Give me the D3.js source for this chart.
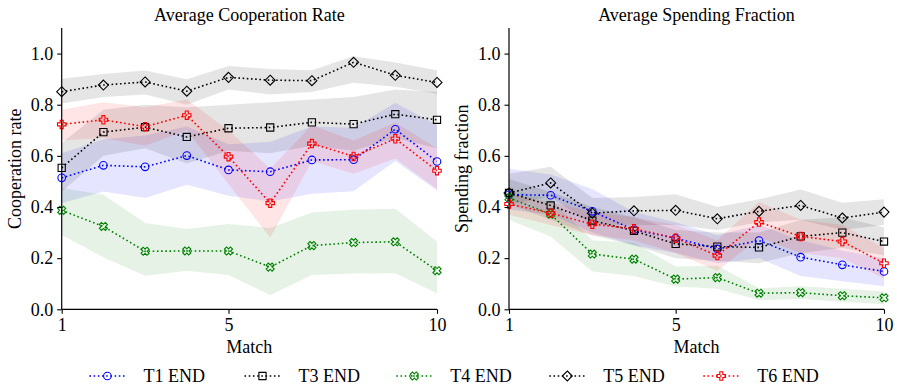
<!DOCTYPE html>
<html><head><meta charset="utf-8">
<script src="https://cdn.jsdelivr.net/npm/d3@7"></script>
<style>body{margin:0;background:#fff}svg text{font-family:"Liberation Serif","DejaVu Serif",serif}</style>
</head><body><svg id="c" width="897" height="388"></svg>
<script>
const matches=[1,2,3,4,5,6,7,8,9,10];
const xTicks=[1,5,10];
const yTicks=[0,0.2,0.4,0.6,0.8,1.0];
const seriesNames=["T1 END","T3 END","T4 END","T5 END","T6 END"];
const seriesColors=["#0000ff","#000000","#008000","#000000","#ff0000"];
const seriesMarkers=["circle","square","x","diamond","plus"];

// Cooperation rate
const coopT1=[0.514,0.563,0.557,0.601,0.545,0.538,0.584,0.585,0.704,0.578];
const coopT1Lo=[0.415,0.461,0.435,0.487,0.444,0.422,0.452,0.462,0.58,0.465];
const coopT1Hi=[0.61,0.665,0.68,0.715,0.645,0.655,0.715,0.71,0.808,0.72];
const coopT3=[0.553,0.693,0.712,0.674,0.708,0.711,0.731,0.724,0.763,0.741];
const coopT3Lo=[0.46,0.60,0.63,0.57,0.62,0.61,0.64,0.62,0.67,0.63];
const coopT3Hi=[0.65,0.78,0.80,0.79,0.80,0.81,0.82,0.83,0.86,0.85];
const coopT4=[0.387,0.324,0.227,0.228,0.228,0.165,0.249,0.261,0.264,0.151];
const coopT4Lo=[0.291,0.204,0.131,0.151,0.134,0.056,0.134,0.14,0.141,0.063];
const coopT4Hi=[0.474,0.448,0.337,0.314,0.334,0.318,0.379,0.389,0.393,0.265];
const coopT5=[0.851,0.877,0.889,0.853,0.907,0.896,0.894,0.966,0.915,0.887];
const coopT5Lo=[0.805,0.83,0.84,0.80,0.86,0.84,0.85,0.886,0.87,0.843];
const coopT5Hi=[0.902,0.92,0.934,0.90,0.951,0.94,0.935,0.99,0.965,0.935];
const coopT6=[0.723,0.741,0.714,0.759,0.597,0.415,0.648,0.598,0.667,0.542];
const coopT6Lo=[0.66,0.67,0.64,0.70,0.49,0.28,0.58,0.53,0.59,0.47];
const coopT6Hi=[0.78,0.81,0.79,0.82,0.70,0.55,0.72,0.66,0.73,0.63];

// Spending fraction
const spendT1=[0.448,0.446,0.383,0.311,0.278,0.236,0.269,0.204,0.174,0.148];
const spendT1Lo=[0.39,0.37,0.30,0.25,0.22,0.18,0.20,0.13,0.11,0.09];
const spendT1Hi=[0.55,0.527,0.47,0.38,0.34,0.29,0.33,0.27,0.23,0.20];
const spendT3=[0.455,0.406,0.347,0.307,0.256,0.245,0.242,0.285,0.300,0.265];
const spendT3Lo=[0.41,0.35,0.29,0.25,0.20,0.19,0.18,0.22,0.24,0.21];
const spendT3Hi=[0.51,0.46,0.40,0.36,0.31,0.30,0.30,0.35,0.36,0.32];
const spendT4=[0.436,0.372,0.216,0.196,0.118,0.124,0.063,0.065,0.053,0.045];
const spendT4Lo=[0.35,0.285,0.148,0.13,0.089,0.08,0.036,0.04,0.03,0.02];
const spendT4Hi=[0.47,0.43,0.27,0.26,0.167,0.17,0.082,0.09,0.08,0.07];
const spendT5=[0.455,0.494,0.376,0.385,0.387,0.354,0.383,0.406,0.357,0.380];
const spendT5Lo=[0.41,0.44,0.33,0.33,0.33,0.31,0.34,0.35,0.31,0.33];
const spendT5Hi=[0.53,0.557,0.435,0.439,0.45,0.40,0.43,0.468,0.417,0.43];
const spendT6=[0.412,0.376,0.333,0.315,0.278,0.210,0.341,0.285,0.265,0.180];
const spendT6Lo=[0.37,0.33,0.29,0.27,0.22,0.15,0.28,0.22,0.20,0.12];
const spendT6Hi=[0.45,0.42,0.38,0.36,0.33,0.27,0.42,0.35,0.33,0.24];

const panels=[
 {title:"Average Cooperation Rate",ylabel:"Cooperation rate",x0:61.7,x1:437,
  means:[coopT1,coopT3,coopT4,coopT5,coopT6],los:[coopT1Lo,coopT3Lo,coopT4Lo,coopT5Lo,coopT6Lo],his:[coopT1Hi,coopT3Hi,coopT4Hi,coopT5Hi,coopT6Hi]},
 {title:"Average Spending Fraction",ylabel:"Spending fraction",x0:509,x1:884,
  means:[spendT1,spendT3,spendT4,spendT5,spendT6],los:[spendT1Lo,spendT3Lo,spendT4Lo,spendT5Lo,spendT6Lo],his:[spendT1Hi,spendT3Hi,spendT4Hi,spendT5Hi,spendT6Hi]}
];

function markerPath(type){
  if(type==="circle"){const r=3.8;return `M${r},0A${r},${r},0,1,1,${-r},0A${r},${r},0,1,1,${r},0Z`;}
  if(type==="square"){const s=3.6;return `M${-s},${-s}H${s}V${s}H${-s}Z`;}
  if(type==="diamond"){const s=5;return `M0,${-s}L${s},0L0,${s}L${-s},0Z`;}
  const a=4.2,b=1.5;
  let pts=[[b,-a],[b,-b],[a,-b],[a,b],[b,b],[b,a],[-b,a],[-b,b],[-a,b],[-a,-b],[-b,-b],[-b,-a]];
  if(type==="x"){const c=Math.SQRT1_2;pts=pts.map(([x,y])=>[(x-y)*c,(x+y)*c]);}
  return "M"+pts.map(p=>p[0].toFixed(2)+","+p[1].toFixed(2)).join("L")+"Z";
}

const FONT='"Liberation Serif","DejaVu Serif",serif';
const svg=d3.select("#c");
const yTop=28,yBot=309.3;
panels.forEach(p=>{
  const x=d3.scaleLinear().domain([1,10]).range([p.x0,p.x1]);
  const y=d3.scaleLinear().domain([0,1.1]).range([yBot,yTop]);
  const g=svg.append("g");
  p.means.forEach((m,i)=>{
    const area=d3.area().x((d,j)=>x(matches[j])).y0((d,j)=>y(p.los[i][j])).y1((d,j)=>y(p.his[i][j]));
    g.append("path").attr("d",area(m)).attr("fill",seriesColors[i]).attr("fill-opacity",0.1).attr("stroke","none");
  });
  p.means.forEach((m,i)=>{
    const line=d3.line().x((d,j)=>x(matches[j])).y(d=>y(d));
    g.append("path").attr("d",line(m)).attr("fill","none").attr("stroke",seriesColors[i])
     .attr("stroke-width",1.6).attr("stroke-dasharray","1.6,2.6");
    g.selectAll(null).data(m).enter().append("path")
     .attr("d",markerPath(seriesMarkers[i]))
     .attr("transform",(d,j)=>`translate(${x(matches[j])},${y(d)})`)
     .attr("fill","none").attr("stroke",seriesColors[i]).attr("stroke-width",1.1);
  });
  const xa=d3.axisBottom(x).tickValues(xTicks).tickFormat(d3.format("d")).tickSize(4.5).tickPadding(4);
  const ya=d3.axisLeft(y).tickValues(yTicks).tickFormat(d3.format(".1f")).tickSize(4.5).tickPadding(4);
  const gx=svg.append("g").attr("transform",`translate(0,${yBot})`).call(xa);
  const gy=svg.append("g").attr("transform",`translate(${p.x0},0)`).call(ya);
  [gx,gy].forEach(a=>{
    a.attr("font-family",FONT);
    a.select(".domain").attr("stroke","#000").attr("stroke-width",1.2);
    a.selectAll(".tick line").attr("stroke","#000").attr("stroke-width",1.1);
    a.selectAll(".tick text").attr("fill","#000").attr("font-family",FONT).style("font-size","18px");
  });
  gx.select(".domain").attr("d",`M${p.x0},0H${p.x1}`);
  gy.select(".domain").attr("d",`M0,${yBot}V${yTop}`);
  const cx=(p.x0+p.x1)/2;
  svg.append("text").attr("x",cx).attr("y",20.5).attr("text-anchor","middle").attr("font-family",FONT).style("font-size","18px").text(p.title);
  svg.append("text").attr("x",cx).attr("y",353).attr("text-anchor","middle").attr("font-family",FONT).style("font-size","18px").text("Match");
  svg.append("text").attr("transform",`translate(${p.x0-41},${(yTop+yBot)/2}) rotate(-90)`).attr("text-anchor","middle").attr("font-family",FONT).style("font-size","18px").text(p.ylabel);
});

const legX=[107.4,262.5,414.3,567.3,721.3];
const legY=376;
seriesNames.forEach((n,i)=>{
  const g=svg.append("g").attr("transform",`translate(${legX[i]},${legY})`);
  g.append("line").attr("x1",-18).attr("x2",19).attr("y1",0).attr("y2",0).attr("stroke",seriesColors[i])
   .attr("stroke-width",1.6).attr("stroke-dasharray","1.6,2.6");
  g.append("path").attr("d",markerPath(seriesMarkers[i])).attr("fill","none").attr("stroke",seriesColors[i]).attr("stroke-width",1.1);
  g.append("text").attr("x",36).attr("y",6).attr("font-family",FONT).style("font-size","18px").text(n);
});
</script></body></html>
